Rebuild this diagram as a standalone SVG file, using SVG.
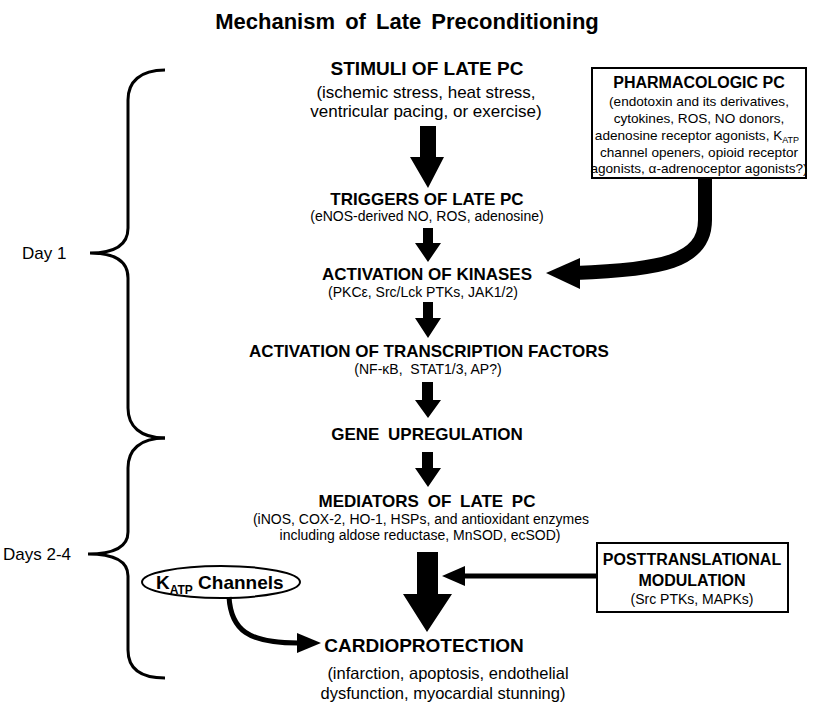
<svg xmlns="http://www.w3.org/2000/svg" width="814" height="704" viewBox="0 0 814 704">
<style>
text{font-family:"Liberation Sans",Arial,sans-serif;fill:#000}
.t{font-size:22px;font-weight:bold;word-spacing:4px}
.h1{font-size:19px;font-weight:bold;text-anchor:middle}
.h{font-size:17px;font-weight:bold;text-anchor:middle}
.hw{font-size:17px;font-weight:bold;text-anchor:middle;word-spacing:4px}
.p17{font-size:17px;text-anchor:middle}
.p16{font-size:16.5px;text-anchor:middle}
.p14{font-size:14px;text-anchor:middle}
.pb{font-size:16px;font-weight:bold;text-anchor:middle}
.ph{font-size:13.6px;text-anchor:middle}
.day{font-size:17px}
.brace{fill:none;stroke:#000;stroke-width:3}
.box{fill:#fff;stroke:#000;stroke-width:2}
.fat{fill:#000}
.line{fill:none;stroke:#000}
</style>
<rect width="814" height="704" fill="#fff"/>
<text class="t" x="407" y="29" text-anchor="middle">Mechanism of Late Preconditioning</text>

<g id="braces">
<path class="brace" d="M165,70 C140,70 128,82 128,100 L128,228 C128,245 115,253 90,253 C115,253 128,261 128,278 L128,408 C128,426 140,438 165,438"/>
<path class="brace" d="M165,438 C140,438 128,450 128,468 L128,532 C128,547 115,554 88,554 C115,554 128,561 128,576 L128,650 C128,668 140,678 165,678"/>
<text class="day" x="22" y="259">Day 1</text>
<text class="day" x="3" y="560">Days 2-4</text>
</g>

<g id="stimuli">
<text class="h1" x="427" y="75">STIMULI OF LATE PC</text>
<text class="p17" x="426" y="98">(ischemic stress, heat stress,</text>
<text class="p17" x="426" y="117">ventricular pacing, or exercise)</text>
</g>
<g id="triggers">
<text class="h" x="427" y="205">TRIGGERS OF LATE PC</text>
<text class="p14" x="427" y="221">(eNOS-derived NO, ROS, adenosine)</text>
</g>
<g id="kinases">
<text class="h" x="427" y="280">ACTIVATION OF KINASES</text>
<text class="p14" x="423" y="297">(PKCε, Src/Lck PTKs, JAK1/2)</text>
</g>
<g id="transcription">
<text class="h" x="429" y="357">ACTIVATION OF TRANSCRIPTION FACTORS</text>
<text class="p14" x="428" y="374" xml:space="preserve">(NF-κB,  STAT1/3, AP?)</text>
</g>
<g id="gene">
<text class="hw" x="427" y="440">GENE UPREGULATION</text>
</g>
<g id="mediators">
<text class="hw" x="427" y="507">MEDIATORS OF LATE PC</text>
<text class="p14" x="421" y="524">(iNOS, COX-2, HO-1, HSPs, and antioxidant enzymes</text>
<text class="p14" x="420" y="540">including aldose reductase, MnSOD, ecSOD)</text>
</g>
<g id="cardio">
<text class="h1" x="424" y="652">CARDIOPROTECTION</text>
<text class="p16" x="448" y="679">(infarction, apoptosis, endothelial</text>
<text class="p16" x="443" y="699">dysfunction, myocardial stunning)</text>
</g>
<g id="pharm">
<rect class="box" x="592" y="68" width="214" height="110"/>
<text class="pb" x="699" y="88">PHARMACOLOGIC PC</text>
<text class="ph" x="699" y="106">(endotoxin and its derivatives,</text>
<text class="ph" x="699" y="123">cytokines, ROS, NO donors,</text>
<text class="ph" x="697" y="140">adenosine receptor agonists, K<tspan font-size="9" dy="3">ATP</tspan></text>
<text class="ph" x="699" y="157">channel openers, opioid receptor</text>
<text class="ph" x="699" y="173">agonists, α-adrenoceptor agonists?)</text>
</g>
<g id="posttrans">
<rect class="box" x="597" y="543" width="191" height="69"/>
<text class="pb" x="692" y="565">POSTTRANSLATIONAL</text>
<text class="pb" x="692" y="586">MODULATION</text>
<text class="p14" x="692" y="604">(Src PTKs, MAPKs)</text>
</g>
<g id="katp">
<ellipse cx="221" cy="582" rx="79" ry="16" fill="#fff" stroke="#000" stroke-width="2"/>
<text x="156" y="589" style="font-size:19px;font-weight:bold">K<tspan font-size="12" dy="5">ATP</tspan><tspan dy="-5"> Channels</tspan></text>
</g>

<g id="connectors">
<polygon class="fat" points="420,126 436,126 436,157 444,157 428,188 410,157 420,157"/>
<polygon class="fat" points="423,228 433,228 433,243 441,243 428,262 415,243 423,243"/>
<polygon class="fat" points="423,302 433,302 433,318 441,318 428,338 415,318 423,318"/>
<polygon class="fat" points="422,382 433,382 433,400 441,400 428,418 415,400 422,400"/>
<polygon class="fat" points="422,452 433,452 433,468 441,468 428,487 415,468 422,468"/>
<polygon class="fat" points="417,552 438,552 438,594 452,594 427,632 403,594 417,594"/>
<path class="line" stroke-width="14" d="M705,178 V220 C705,262 660,270 575,273"/>
<polygon class="fat" points="546,273 580,258 580,289"/>
<path class="line" stroke-width="5" d="M597,576 H460"/>
<polygon class="fat" points="442,576 465,566 465,586"/>
<path class="line" stroke-width="5" d="M229,597 C231,630 248,643 298,643"/>
<polygon class="fat" points="321,643 297,633 297,653"/>
</g>
</svg>
